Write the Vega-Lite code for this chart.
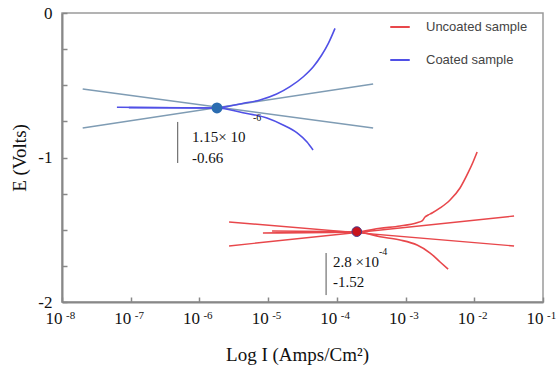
{
  "$schema": "https://vega.github.io/schema/vega-lite/v6.json",
  "width": 481,
  "height": 289,
  "autosize": {"type": "none"},
  "padding": {"left": 62, "top": 13, "right": 15, "bottom": 65},
  "background": "white",
  "config": {
    "view": {"stroke": "#9a9a9a", "strokeWidth": 1.5},
    "font": "Liberation Serif"
  },
  "datasets": {
    "curves": [
      {"sample": "Coated sample", "series": "c1", "I": 6.3e-8, "E": -0.652},
      {"sample": "Coated sample", "series": "c1", "I": 1.8e-6, "E": -0.657},
      {"sample": "Coated sample", "series": "c1", "I": 4.3e-6, "E": -0.69},
      {"sample": "Coated sample", "series": "c1", "I": 9.6e-6, "E": -0.727},
      {"sample": "Coated sample", "series": "c1", "I": 1.65e-5, "E": -0.775},
      {"sample": "Coated sample", "series": "c1", "I": 2.64e-5, "E": -0.83},
      {"sample": "Coated sample", "series": "c1", "I": 3.68e-5, "E": -0.893},
      {"sample": "Coated sample", "series": "c1", "I": 4.5e-5, "E": -0.948},
      {"sample": "Coated sample", "series": "c2", "I": 9.4e-8, "E": -0.655},
      {"sample": "Coated sample", "series": "c2", "I": 1.8e-6, "E": -0.657},
      {"sample": "Coated sample", "series": "c2", "I": 2.79e-6, "E": -0.644},
      {"sample": "Coated sample", "series": "c2", "I": 4.36e-6, "E": -0.625},
      {"sample": "Coated sample", "series": "c2", "I": 7.62e-6, "E": -0.602},
      {"sample": "Coated sample", "series": "c2", "I": 1.33e-5, "E": -0.561},
      {"sample": "Coated sample", "series": "c2", "I": 2.08e-5, "E": -0.51},
      {"sample": "Coated sample", "series": "c2", "I": 3.25e-5, "E": -0.441},
      {"sample": "Coated sample", "series": "c2", "I": 4.54e-5, "E": -0.372},
      {"sample": "Coated sample", "series": "c2", "I": 6.02e-5, "E": -0.291},
      {"sample": "Coated sample", "series": "c2", "I": 7.52e-5, "E": -0.21},
      {"sample": "Coated sample", "series": "c2", "I": 9.4e-5, "E": -0.106},
      {"sample": "Uncoated sample", "series": "u1", "I": 8.4e-6, "E": -1.522},
      {"sample": "Uncoated sample", "series": "u1", "I": 1.95e-4, "E": -1.515},
      {"sample": "Uncoated sample", "series": "u1", "I": 4.26e-4, "E": -1.49},
      {"sample": "Uncoated sample", "series": "u1", "I": 8.3e-4, "E": -1.474},
      {"sample": "Uncoated sample", "series": "u1", "I": 1.47e-3, "E": -1.451},
      {"sample": "Uncoated sample", "series": "u1", "I": 1.74e-3, "E": -1.439},
      {"sample": "Uncoated sample", "series": "u1", "I": 1.92e-3, "E": -1.412},
      {"sample": "Uncoated sample", "series": "u1", "I": 2.13e-3, "E": -1.398},
      {"sample": "Uncoated sample", "series": "u1", "I": 2.43e-3, "E": -1.384},
      {"sample": "Uncoated sample", "series": "u1", "I": 3.18e-3, "E": -1.349},
      {"sample": "Uncoated sample", "series": "u1", "I": 4.44e-3, "E": -1.294},
      {"sample": "Uncoated sample", "series": "u1", "I": 6.2e-3, "E": -1.211},
      {"sample": "Uncoated sample", "series": "u1", "I": 8.1e-3, "E": -1.107},
      {"sample": "Uncoated sample", "series": "u1", "I": 9.6e-3, "E": -1.031},
      {"sample": "Uncoated sample", "series": "u1", "I": 1.1e-2, "E": -0.962},
      {"sample": "Uncoated sample", "series": "u2", "I": 1.14e-5, "E": -1.509},
      {"sample": "Uncoated sample", "series": "u2", "I": 1.95e-4, "E": -1.515},
      {"sample": "Uncoated sample", "series": "u2", "I": 4.26e-4, "E": -1.548},
      {"sample": "Uncoated sample", "series": "u2", "I": 8.3e-4, "E": -1.571},
      {"sample": "Uncoated sample", "series": "u2", "I": 1.47e-3, "E": -1.606},
      {"sample": "Uncoated sample", "series": "u2", "I": 2.28e-3, "E": -1.661},
      {"sample": "Uncoated sample", "series": "u2", "I": 3.18e-3, "E": -1.723},
      {"sample": "Uncoated sample", "series": "u2", "I": 4.16e-3, "E": -1.772}
    ],
    "tafel": [
      {"sample": "Coated sample", "line": "c1", "I": 2.0e-8, "E": -0.526},
      {"sample": "Coated sample", "line": "c1", "I": 3.37e-4, "E": -0.796},
      {"sample": "Coated sample", "line": "c2", "I": 2.0e-8, "E": -0.796},
      {"sample": "Coated sample", "line": "c2", "I": 3.37e-4, "E": -0.491},
      {"sample": "Uncoated sample", "line": "u1", "I": 2.7e-6, "E": -1.446},
      {"sample": "Uncoated sample", "line": "u1", "I": 3.79e-2, "E": -1.612},
      {"sample": "Uncoated sample", "line": "u2", "I": 2.7e-6, "E": -1.612},
      {"sample": "Uncoated sample", "line": "u2", "I": 3.79e-2, "E": -1.405}
    ],
    "corr": [
      {"sample": "Coated sample", "I": 1.8e-6, "E": -0.657},
      {"sample": "Uncoated sample", "I": 1.95e-4, "E": -1.513}
    ],
    "marks": [
      {"I": 4.83e-7, "E": -0.754, "E2": -1.038},
      {"I": 6.97e-5, "E": -1.661, "E2": -1.952}
    ],
    "notes": [
      {"I": 7.8e-7, "E": -0.893, "text": "1.15× 10"},
      {"I": 7.8e-7, "E": -1.038, "text": "-0.66"},
      {"I": 8.8e-5, "E": -1.758, "text": "2.8 ×10"},
      {"I": 8.8e-5, "E": -1.896, "text": "-1.52"}
    ],
    "sups": [
      {"I": 6.0e-6, "E": -0.747, "text": "-6"},
      {"I": 4.1e-4, "E": -1.675, "text": "-4"}
    ],
    "decades": [
      {"I": 1e-8, "E": -2, "exp": "-8"},
      {"I": 1e-7, "E": -2, "exp": "-7"},
      {"I": 1e-6, "E": -2, "exp": "-6"},
      {"I": 1e-5, "E": -2, "exp": "-5"},
      {"I": 1e-4, "E": -2, "exp": "-4"},
      {"I": 1e-3, "E": -2, "exp": "-3"},
      {"I": 1e-2, "E": -2, "exp": "-2"},
      {"I": 1e-1, "E": -2, "exp": "-1"}
    ]
  },
  "encoding": {
    "x": {
      "field": "I",
      "type": "quantitative",
      "scale": {"type": "log", "domain": [1e-8, 0.1], "nice": false},
      "axis": {
        "values": [1e-8, 1e-7, 1e-6, 1e-5, 1e-4, 1e-3, 1e-2, 1e-1],
        "labelExpr": "'10'",
        "labelAlign": "right",
        "labelDx": 2,
        "labelBaseline": "top",
        "labelPadding": 13,
        "labelFont": "Liberation Serif",
        "labelFontSize": 17,
        "labelColor": "#111",
        "labelFlush": false,
        "labelOverlap": false,
        "labelBound": false,
        "tickSize": -5,
        "tickColor": "#888",
        "tickWidth": 1.5,
        "domainColor": "#888",
        "domainWidth": 2,
        "grid": false,
        "title": "Log I (Amps/Cm²)",
        "titleFont": "Liberation Serif",
        "titleFontSize": 19,
        "titleFontWeight": "normal",
        "titleColor": "#111",
        "titleX": 235,
        "titleY": 58,
        "titleBaseline": "alphabetic"
      }
    },
    "y": {
      "field": "E",
      "type": "quantitative",
      "scale": {"domain": [-2, 0], "nice": false},
      "axis": {
        "values": [-2, -1.75, -1.5, -1.25, -1, -0.75, -0.5, -0.25, 0],
        "labelExpr": "datum.value == 0 ? '0' : datum.value == -1 ? '-1' : datum.value == -2 ? '-2' : ''",
        "labelPadding": 15,
        "labelFont": "Liberation Serif",
        "labelFontSize": 17,
        "labelColor": "#111",
        "labelFlush": false,
        "labelOverlap": false,
        "tickSize": -5,
        "tickColor": "#888",
        "tickWidth": 1.5,
        "domainColor": "#888",
        "domainWidth": 2,
        "grid": false,
        "title": "E (Volts)",
        "titleFont": "Liberation Serif",
        "titleFontSize": 19,
        "titleFontWeight": "normal",
        "titleColor": "#111",
        "titleX": -33,
        "titleY": 144.5,
        "titleAngle": -90,
        "titleBaseline": "bottom"
      }
    }
  },
  "layer": [
    {
      "data": {"name": "tafel"},
      "transform": [{"filter": "datum.sample == 'Coated sample'"}],
      "mark": {"type": "line", "color": "#7f9cb4", "strokeWidth": 1.6},
      "encoding": {"detail": {"field": "line"}}
    },
    {
      "data": {"name": "tafel"},
      "transform": [{"filter": "datum.sample == 'Uncoated sample'"}],
      "mark": {"type": "line", "color": "#e8474b", "strokeWidth": 1.4},
      "encoding": {"detail": {"field": "line"}}
    },
    {
      "data": {"name": "curves"},
      "mark": {"type": "line", "strokeWidth": 1.6, "interpolate": "monotone"},
      "encoding": {
        "detail": {"field": "series"},
        "color": {
          "field": "sample",
          "type": "nominal",
          "scale": {"domain": ["Uncoated sample", "Coated sample"], "range": ["#e8474b", "#5050e6"]},
          "legend": {
            "orient": "none",
            "legendX": 327,
            "legendY": 3,
            "title": null,
            "symbolType": "stroke",
            "symbolSize": 380,
            "symbolStrokeWidth": 2,
            "labelFont": "Liberation Sans",
            "labelFontSize": 13,
            "labelColor": "#444",
            "labelOffset": 15,
            "rowPadding": 15,
            "padding": 0
          }
        }
      }
    },
    {
      "data": {"name": "marks"},
      "mark": {"type": "rule", "color": "#555", "strokeWidth": 1},
      "encoding": {"y2": {"field": "E2"}}
    },
    {
      "data": {"name": "corr"},
      "transform": [{"filter": "datum.sample == 'Coated sample'"}],
      "mark": {"type": "point", "filled": true, "color": "#2b6cb0", "size": 120, "opacity": 1},
      "encoding": {}
    },
    {
      "data": {"name": "corr"},
      "transform": [{"filter": "datum.sample == 'Uncoated sample'"}],
      "mark": {"type": "point", "filled": true, "fill": "#c8141c", "stroke": "#4b3a8a", "strokeWidth": 1, "size": 95, "opacity": 1},
      "encoding": {}
    },
    {
      "data": {"name": "notes"},
      "mark": {"type": "text", "align": "left", "baseline": "alphabetic", "font": "Liberation Serif", "fontSize": 15, "color": "#111"},
      "encoding": {"text": {"field": "text"}}
    },
    {
      "data": {"name": "sups"},
      "mark": {"type": "text", "align": "left", "baseline": "alphabetic", "font": "Liberation Serif", "fontSize": 10, "color": "#111"},
      "encoding": {"text": {"field": "text"}}
    },
    {
      "data": {"name": "decades"},
      "mark": {"type": "text", "align": "left", "baseline": "alphabetic", "font": "Liberation Serif", "fontSize": 11, "color": "#111", "dx": 4, "dy": 17, "clip": false},
      "encoding": {
        "text": {"field": "exp"}
      }
    }
  ]
}
